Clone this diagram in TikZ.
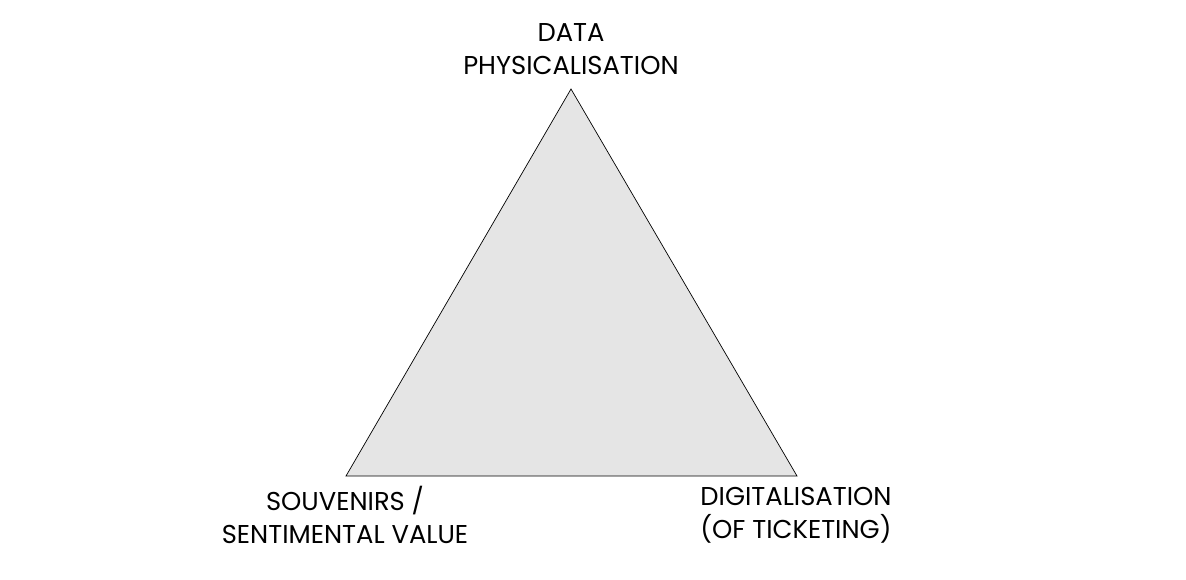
\documentclass[tikz,border=0pt]{standalone}
\usepackage{fontspec}
\setmainfont{Poppins}
\begin{document}
\begin{tikzpicture}[x=1pt,y=-1pt,
  lbl/.style={align=center,font=\fontsize{25.8}{33}\selectfont,inner sep=0pt,text=black},
  tri/.style={draw=black,line width=0.7pt,fill=black!10}]
\useasboundingbox (0,0) rectangle (1186,579);
\coordinate (A) at (571,89);
\coordinate (B) at (346,476);
\coordinate (C) at (797,476);
\draw[tri] (A) -- (B) -- (C) -- cycle;
\node[lbl] (top) at (571,49) {DATA\\PHYSICALISATION};
\node[lbl] (left) at (345,515) {SOUVENIRS /\\SENTIMENTAL VALUE};
\node[lbl] (right) at (796,515) {DIGITALISATION\\(OF TICKETING)};
\end{tikzpicture}
\end{document}
